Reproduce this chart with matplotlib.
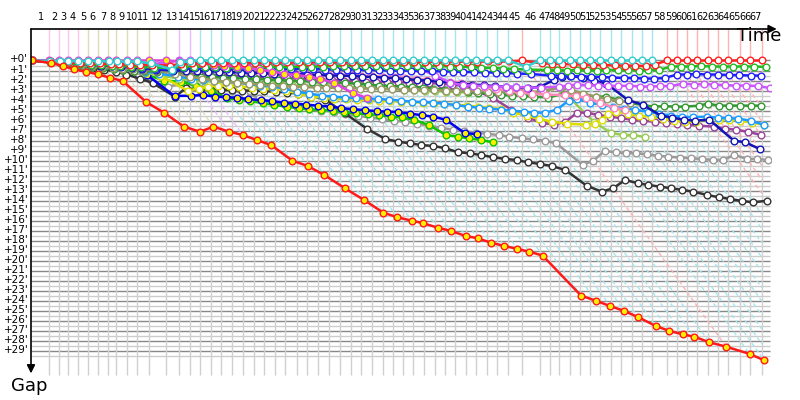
import matplotlib
matplotlib.use("Agg")
import matplotlib.pyplot as plt

# leader's race time (minutes) at each line crossing, k = 0 is the start
lap_time = [0.00, 2.42, 3.81, 4.99, 6.42, 7.81, 9.18, 10.63, 11.79, 13.23,
            14.62, 16.37, 18.72, 20.46, 22.00, 23.45, 24.96, 26.37, 27.99, 29.40,
            30.96, 32.46, 33.88, 35.38, 37.05, 38.42, 39.99, 41.52, 43.07, 44.51,
            45.94, 47.47, 48.98, 50.39, 51.86, 53.23, 54.78, 56.24, 57.74, 59.06,
            60.63, 62.04, 63.58, 64.96, 66.49, 68.39, 70.95, 72.35, 73.66, 75.13,
            76.51, 77.92, 79.27, 80.87, 82.30, 83.72, 85.13, 86.59, 88.67, 90.04,
            91.44, 92.84, 94.37, 95.85, 97.25, 98.88, 100.28, 101.91]
lap_labels = [str(n) for n in range(1, 68)]
gap_ticks = list(range(0, 30))

# who led each lap (first lap, last lap)
leader_runs = [("magenta", 1, 4), ("khaki", 5, 12), ("violet", 13, 14),
               ("cyan", 15, 44), ("red", 45, 45), ("cyan", 46, 57), ("red", 58, 67)]

# gap to the leader (minutes) at each crossing, from the start
gap_cyan = [0, 0.05, 0.05, 0.05, 0.05, 0.05, 0.05, 0.1, 0.1, 0.1, 0.1, 0.3, 0.9, 0.2, 0.05,
            0, 0, 0, 0, 0, 0, 0, 0, 0, 0, 0, 0, 0, 0, 0, 0, 0, 0, 0, 0, 0, 0, 0, 0, 0, 0, 0, 0, 0, 0,
            0.6, 0, 0, 0, 0, 0, 0, 0, 0, 0, 0, 0, 0]
gap_red = [0, 0.1, 0.15, 0.2, 0.25, 0.3, 0.3, 0.35, 0.35, 0.4, 0.4, 0.45, 0.5, 0.35, 0.3,
           0.3, 0.3, 0.28, 0.26, 0.25, 0.25, 0.22, 0.2, 0.2, 0.2, 0.18, 0.18, 0.16, 0.16, 0.15, 0.15,
           0.15, 0.15, 0.14, 0.14, 0.13, 0.13, 0.12, 0.12, 0.12, 0.11, 0.11, 0.1, 0.1, 0.1,
           0, 0.3, 0.32, 0.35, 0.38, 0.4, 0.42, 0.45, 0.48, 0.5, 0.52, 0.55, 0.4,
           0, 0, 0, 0, 0, 0, 0, 0, 0, 0]
gap_green = [0, 0.15, 0.25, 0.3, 0.35, 0.4, 0.45, 0.5, 0.55, 0.6, 0.65, 0.7, 0.75,
             0.6, 0.6, 0.65, 0.65, 0.7, 0.7, 0.7, 0.7, 0.65, 0.65, 0.65, 0.6, 0.6, 0.6, 0.55, 0.55, 0.55,
             0.5, 0.5, 0.5, 0.5, 0.5, 0.55, 0.55, 0.55, 0.6, 0.6, 0.65, 0.7, 0.75, 0.8, 0.85, 0.9,
             0.95, 0.95, 1.0, 0.95, 0.95, 1.0, 0.95, 0.95, 0.95, 1.0, 0.95, 0.95,
             0.6, 0.6, 0.6, 0.55, 0.6, 0.6, 0.6, 0.6, 0.6, 0.65]
gap_blue = [0, 0.1, 0.2, 0.3, 0.35, 0.4, 0.45, 0.5, 0.55, 0.6, 0.7, 0.8, 0.9,
            0.75, 0.75, 0.75, 0.75, 0.8, 0.8, 0.8, 0.8, 0.85, 0.85, 0.85, 0.85, 0.85, 0.9, 0.9, 0.9, 0.9,
            0.95, 0.95, 1.0, 1.0, 1.0, 1.05, 1.05, 1.1, 1.1, 1.15, 1.15, 1.2, 1.2, 1.25, 1.3, 1.35,
            1.5, 1.5, 1.55, 1.6, 1.6, 1.65, 1.7, 1.75, 1.75, 1.8, 1.8, 1.75,
            1.4, 1.4, 1.35, 1.4, 1.4, 1.45, 1.45, 1.5, 1.5]
gap_violet = [0, 0.05, 0.1, 0.15, 0.15, 0.2, 0.2, 0.25, 0.25, 0.3, 0.3, 0.35, 0.2, 0, 0,
              0.3, 0.3, 0.3, 0.35, 0.35, 0.35, 0.35, 0.4, 0.4, 0.4, 0.4, 0.4, 0.35, 0.35, 0.35,
              0.3, 0.3, 0.3, 0.3, 0.3, 0.8, 1.5, 2.2, 2.45,
              2.5, 2.55, 2.6, 2.6, 2.65, 2.7, 2.7,
              2.6, 2.5, 2.4, 2.45, 2.5, 2.5, 2.55, 2.5, 2.6, 2.6, 2.55, 2.55,
              2.3, 2.4, 2.35, 2.4, 2.45, 2.5, 2.5, 2.55, 2.75]
gap_pink = [0, 0.1, 0.15, 0.2, 0.25, 0.3, 0.35, 0.4, 0.45, 0.5, 0.55, 0.6, 0.7,
            0.7, 0.75, 0.8, 0.85, 0.9, 0.95, 1.0, 1.05,
            1.1, 1.15, 1.2, 1.25, 1.3, 1.35, 1.4, 1.45, 1.5, 1.55,
            1.6, 1.65, 1.7, 1.8, 1.9, 2.0, 2.1, 2.2,
            2.4, 2.6, 2.8, 3.0, 3.2, 3.3, 3.4,
            3.45, 3.55, 3.7, 4.2, 4.7, 4.9]
gap_olive = [0, 0.15, 0.25, 0.35, 0.45, 0.55, 0.65, 0.75, 0.8, 0.85, 0.9, 1.0, 1.3,
             1.6, 1.8, 2.0, 2.1, 2.2, 2.3, 2.4, 2.5, 2.55, 2.6, 2.65, 2.7, 2.7, 2.75, 2.75, 2.8, 2.8,
             2.85, 2.85, 2.9, 2.9, 2.95, 2.95, 3.0, 3.0, 3.05, 3.05, 3.1, 3.1, 3.15, 3.15, 3.2, 3.0,
             2.75, 2.9, 3.3, 3.6, 3.85, 4.0, 4.2]
gap_forest = [0, 0.2, 0.3, 0.4, 0.5, 0.6, 0.7, 0.8, 0.9, 1.0, 1.05, 1.1, 1.2,
              1.5, 1.6, 1.65, 1.7, 1.75, 1.8, 1.85, 1.9, 1.95, 2.0, 2.05, 2.1, 2.15, 2.2, 2.25, 2.3, 2.4,
              2.5, 2.55, 2.6, 2.65, 2.7, 2.8, 2.9, 3.0, 3.1, 3.2, 3.3, 3.4, 3.5, 3.55, 3.6, 3.7,
              3.3, 3.4, 3.44, 3.6, 3.6, 3.9, 4.24, 4.44, 4.6, 4.55, 4.6, 4.6,
              4.5, 4.3, 4.5, 4.5, 4.5, 4.5, 4.5]
gap_lightblue = [0, 0.15, 0.25, 0.35, 0.45, 0.55, 0.65, 0.75, 0.85, 0.95, 1.1, 1.3, 1.6,
                 1.8, 1.9, 2.0, 2.1, 2.2, 2.35, 2.5, 2.6, 2.8, 3.1, 3.3, 3.5, 3.6, 3.7, 3.75, 3.8,
                 3.85, 3.9, 4.0, 4.1, 4.15, 4.2, 4.3, 4.45, 4.6, 4.7, 4.8, 4.9, 5.0, 5.1, 5.2, 5.2,
                 4.9, 4.0, 3.8, 4.2, 4.45, 4.6, 4.8, 4.9, 5.1, 5.3, 5.5, 5.6, 5.65,
                 5.6, 5.7, 5.75, 5.8, 6.0, 6.43]
gap_yellow = [0, 0.1, 0.2, 0.3, 0.4, 0.5, 0.6, 0.7, 0.8, 0.9, 1.0, 1.5, 3.0,
              2.8, 2.6, 2.5, 2.5, 2.6, 2.7, 2.8, 2.9, 3.0, 3.3, 3.6, 3.7, 3.8, 3.85, 3.9, 3.95,
              4.0, 4.05, 4.1, 4.15, 4.2, 4.25, 4.3, 4.4, 4.5, 4.6, 4.7, 4.85,
              5.2, 5.5, 5.8, 6.1, 6.3,
              6.4, 6.3, 5.9, 5.3, 5.1, 5.3, 5.5, 5.6, 5.8, 6.0, 6.1, 6.1,
              5.8, 5.9, 5.9, 6.0, 6.2, 6.4]
gap_purple = [0, 0.1, 0.2, 0.3, 0.4, 0.5, 0.55, 0.6, 0.7, 0.8, 0.9, 1.0, 1.2,
              1.3, 1.35, 1.4, 1.45, 1.5, 1.55, 1.6, 1.65, 1.7, 1.75, 1.8, 1.85, 1.9, 1.95, 2.0, 2.05, 2.1,
              2.1, 2.15, 2.15, 2.2, 2.2, 2.25, 2.3, 2.4, 2.5,
              3.0, 3.74, 4.9, 5.7, 6.2, 6.4, 6.1,
              5.2, 5.2, 5.45, 5.6, 5.75, 5.9, 6.0, 6.1, 6.2, 6.3, 6.4, 6.5,
              6.6, 6.8, 6.9, 7.1, 7.43]
gap_navy = [0, 0.1, 0.15, 0.2, 0.3, 0.4, 0.5, 0.55, 0.6, 0.7, 0.8, 0.9, 1.0,
            1.0, 1.05, 1.1, 1.1, 1.15, 1.2, 1.2, 1.25, 1.3, 1.3, 1.35, 1.4, 1.45, 1.5, 1.5, 1.55,
            1.6, 1.65, 1.7,
            1.77, 1.85, 1.95, 2.0, 2.1, 2.2, 2.3, 2.4, 2.45, 2.55, 2.6, 2.67, 2.77,
            2.6, 1.95, 1.6, 1.5, 1.75, 2.0, 2.3,
            3.95, 4.4, 5.5, 5.7, 5.9, 6.0, 5.9, 8.0, 8.15, 8.85]
gap_yellowgreen = [0, 0.2, 0.3, 0.4, 0.5, 0.6, 0.7, 0.8, 0.9, 1.0, 1.2, 1.5, 1.8,
                   2.0, 2.05, 2.1, 2.15, 2.2, 2.25, 2.3, 2.35, 2.4, 2.45, 2.5, 2.55, 2.6, 2.6,
                   2.65, 2.7, 2.7,
                   2.8, 2.85, 2.9, 2.95, 3.0, 3.05, 3.1, 3.15, 3.2, 3.25, 3.3, 3.3, 3.35, 3.4, 3.4,
                   3.0, 2.75, 6.13, 7.23, 7.43, 7.43, 7.63]
gap_magenta = [0, 0, 0, 0, 0, 0, 0, 0, 0, 0, 0, 0, 0,
               0.1, 0.2, 0.3, 0.4, 0.5, 0.6, 0.75, 0.9, 1.1, 1.3, 1.45, 1.6, 1.85, 2.25, 3.24, 3.74]
gap_gray = [0, 0.1, 0.2, 0.35, 0.5, 0.65, 0.8, 1.0, 1.3, 1.6, 2.1, 2.6, 2.3, 2.5, 2.7,
            2.9, 3.0, 3.3, 3.7, 4.2, 4.4, 4.6, 4.8, 5.0, 5.1, 5.3, 5.5, 5.7, 5.85, 6.0,
            6.1, 6.3, 6.5, 6.7, 6.9, 7.05, 7.2, 7.3, 7.45, 7.6, 7.76, 7.86, 8.0, 8.26,
            10.42, 9.99, 9.02, 9.15, 9.25, 9.25, 9.35, 9.49, 9.59, 9.69, 9.75, 9.82,
            9.92, 9.92, 9.42, 9.82, 9.82, 9.92]
gap_black = [0, 0.15, 0.3, 0.45, 0.6, 0.75, 0.9, 1.1, 1.4, 1.8, 2.24, 3.64, 2.74, 2.94, 2.84,
             2.9, 2.95, 3.0, 3.0, 3.05, 3.1, 3.2, 3.3, 3.5, 3.9, 5.26,
             6.83, 7.83, 8.1, 8.26, 8.43, 8.52, 8.75, 9.15, 9.25, 9.42, 9.65, 9.82, 9.92,
             10.15, 10.32, 10.52, 10.92, 12.48, 13.08, 12.74, 11.91, 12.24, 12.41, 12.58,
             12.74, 12.91, 13.08, 13.41, 13.64, 13.81, 14.01, 14.14, 13.98]
gap_blue_y = [0, 0.1, 0.15, 0.2, 0.25, 0.3, 0.35, 0.45, 0.7, 0.9, 1.45,
              3.54, 3.51, 3.44, 3.61, 3.65, 3.72, 3.85, 3.95, 4.05, 4.2, 4.3, 4.4, 4.5, 4.6,
              4.75, 4.85, 4.95, 5.05, 5.1, 5.13, 5.3, 5.45, 5.6, 5.9, 7.26, 7.33]
gap_green_y = [0, 0.1, 0.2, 0.3, 0.4, 0.5, 0.6, 0.7, 0.8, 0.95, 1.4, 2.0, 2.1, 2.5, 3.0,
               3.77, 3.9, 4.05, 4.25, 4.44, 4.6, 4.77, 4.87, 4.94, 5.0, 5.16, 5.26, 5.36,
               5.43, 5.6, 5.66, 5.93, 6.43, 7.43, 7.6, 7.76, 7.93, 8.16]
gap_red_y = [0, 0.25, 0.55, 0.88, 1.12, 1.38, 1.72, 2.04, 4.14, 5.2, 6.6, 7.1, 6.6, 7.1,
             7.43, 7.93, 8.43, 9.99, 10.52, 11.42, 12.74, 13.91, 15.17, 15.63, 15.97, 16.23,
             16.67, 17.0, 17.5, 17.73, 18.17, 18.49, 18.79, 19.06, 19.46, 23.45, 23.95, 24.48,
             24.98, 25.6, 26.47, 26.97, 27.3, 27.54, 28.1, 28.53, 29.26, 29.89]

lap_colors = {"magenta": "#ffc6ea", "khaki": "#dcdcb8", "violet": "#e8bcff",
              "cyan": "#a6e6ee", "red": "#ffb4b4"}

series = [
    (gap_gray, "#9a9a9a", "white"),
    (gap_black, "#333333", "white"),
    (gap_green_y, "#11c400", "#ffee00"),
    (gap_blue_y, "#0000ee", "#ffee00"),
    (gap_yellowgreen, "#99cc55", "white"),
    (gap_purple, "#994499", "white"),
    (gap_yellow, "#dddd00", "white"),
    (gap_lightblue, "#1e9bff", "white"),
    (gap_forest, "#339933", "white"),
    (gap_olive, "#999966", "white"),
    (gap_pink, "#ff88bb", "white"),
    (gap_navy, "#1414b4", "white"),
    (gap_violet, "#cc55ff", "white"),
    (gap_blue, "#2020ff", "white"),
    (gap_green, "#22bb22", "white"),
    (gap_magenta, "#dd44dd", "#ffee00"),
    (gap_red, "#ff2020", "white"),
    (gap_cyan, "#33cccc", "white"),
    (gap_red_y, "#ff1a1a", "#ffee00"),
]

fig = plt.figure(figsize=(8, 4), dpi=100)
ax = fig.add_axes([31 / 800, 24 / 400, 740 / 800, 347 / 400])
x_lo, x_hi = -0.14, 103.2
y_top, y_bot = -3.14, 31.46
ax.set_xlim(x_lo, x_hi)
ax.set_ylim(y_bot, y_top)
ax.axis("off")

grid_end = 103.0
ax.hlines([g + 0.5 for g in gap_ticks], x_lo, grid_end, color="#cccccc", lw=1, zorder=1)
ax.hlines(gap_ticks, x_lo, grid_end, color="#888888", lw=1, zorder=1)

leader_of = {}
for name, a, b in leader_runs:
    for k in range(a, b + 1):
        leader_of[k] = name

for k in range(1, len(lap_time)):
    t = lap_time[k]
    ax.vlines(t, 0, 31.35, color="#d0d0d0", lw=1, zorder=1)
    ax.vlines(t, y_top, 0, color=lap_colors[leader_of[k]], lw=1, zorder=1)
    # every car crossing line k sits on this diagonal
    if k < len(gap_red_y):
        g_end = gap_red_y[k]
    else:
        g_end = lap_time[-1] - t
    ax.plot([t, t + g_end], [0, g_end], color=lap_colors[leader_of[k]], lw=1,
            ls=(0, (3, 2)), zorder=2)

for gaps, col, face in series:
    xs = [lap_time[k] + g for k, g in enumerate(gaps)]
    ax.plot(xs, gaps, color=col, lw=1.8, marker="o", ms=4.8, mfc=face, mec=col,
            mew=1.0, zorder=3)

# axes with arrows
ax.annotate("", xy=(104.0, y_top), xytext=(x_lo, y_top), annotation_clip=False,
            arrowprops=dict(arrowstyle="-|>", color="black", lw=1.2,
                            mutation_scale=12, shrinkA=0, shrinkB=0))
ax.annotate("", xy=(x_lo, 31.2), xytext=(x_lo, y_top), annotation_clip=False,
            arrowprops=dict(arrowstyle="-|>", color="black", lw=1.2,
                            mutation_scale=12, shrinkA=0, shrinkB=0))

for n, lab in enumerate(lap_labels, start=1):
    ax.text((lap_time[n - 1] + lap_time[n]) / 2, -4.3, lab, ha="center", va="center",
            fontsize=7, clip_on=False)
for g in gap_ticks:
    ax.text(-0.5, g - 0.1, "+%d'" % g, ha="right", va="center", fontsize=7.5, clip_on=False)

fig.text(759 / 800, 1 - 36 / 400, "Time", ha="center", va="center", fontsize=13)
fig.text(29 / 800, 1 - 386 / 400, "Gap", ha="center", va="center", fontsize=13)

fig.savefig("out.png", dpi=100)
